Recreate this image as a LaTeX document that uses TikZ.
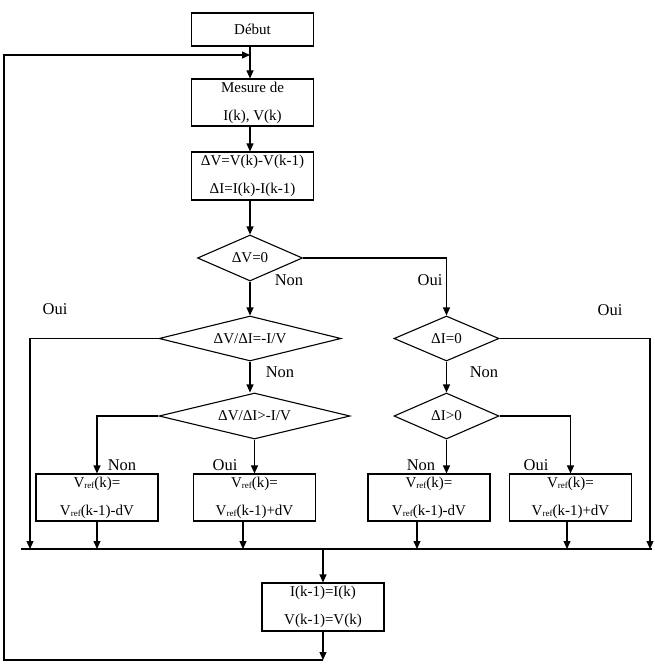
\documentclass[tikz,border=0pt]{standalone}
\usepackage{fontspec}
\setmainfont{Liberation Serif}
\usetikzlibrary{shapes.geometric,arrows.meta}
\newcommand\myVref{V\raisebox{-1.5pt}{\fontsize{9}{9}\selectfont ref}}
\begin{document}
\begin{tikzpicture}[x=1pt,y=-1pt,
  line/.style={line width=1.1pt},
  box/.style={draw, line width=1.1pt, rectangle, minimum width=122pt, minimum height=47pt, inner sep=0pt, align=center, font=\fontsize{15}{28}\selectfont},
  dec/.style={draw, diamond, line width=1.1pt, inner sep=0pt, aspect=1, font=\fontsize{15}{18}\selectfont},
  lab/.style={font=\fontsize{16.5}{18}\selectfont, inner sep=0pt},
  arr/.style={line, -{Triangle[length=8pt,width=7pt]}}]
\useasboundingbox (0,0) rectangle (654,666);
% boxes
\node[box, minimum height=33pt] (debut) at (252.5,29.5) {Début};
\node[box] (mesure) at (252.5,102.5) {Mesure de\\I(k), V(k)};
\node[box, minimum height=48pt] (dv) at (252.5,176) {ΔV=V(k)-V(k-1)\\ΔI=I(k)-I(k-1)};
% decisions
\node[dec, minimum width=105pt, minimum height=46pt] (d1) at (250,258) {\makebox[0pt]{ΔV=0}};
\node[dec, minimum width=182pt, minimum height=45pt] (d2) at (250,338.5) {\makebox[0pt]{ΔV/ΔI=-I/V}};
\node[dec, minimum width=191pt, minimum height=46pt] (d3) at (254.5,416) {\makebox[0pt]{ΔV/ΔI>-I/V}};
\node[dec, minimum width=105pt, minimum height=45pt] (d4) at (446.5,338.5) {\makebox[0pt]{ΔI=0}};
\node[dec, minimum width=105pt, minimum height=46pt] (d5) at (446.5,416) {\makebox[0pt]{ΔI>0}};
% updates
\node[box] (v1) at (97,497.5) {\myVref(k)=\\\myVref(k-1)-dV};
\node[box] (v2) at (254.5,497.5) {\myVref(k)=\\\myVref(k-1)+dV};
\node[box] (v3) at (429,497.5) {\myVref(k)=\\\myVref(k-1)-dV};
\node[box] (v4) at (570.5,497.5) {\myVref(k)=\\\myVref(k-1)+dV};
\node[box, minimum height=48pt] (fin) at (323,607) {I(k-1)=I(k)\\V(k-1)=V(k)};
% coordinates
\coordinate (busL) at (21,549);
\coordinate (busR) at (652,549);
\coordinate (b1) at (30,549);
\coordinate (b6) at (650,549);
\coordinate (ly) at (0,55);
\coordinate (lb) at (0,660);
\coordinate (ll) at (4,55);
% connectors
\draw[arr] (debut.south -| d1.north) -- (mesure.north -| d1.north);
\draw[arr] (mesure.south -| d1.north) -- (dv.north -| d1.north);
\draw[arr] (dv.south -| d1.north) -- (d1.north);
\draw[arr] (d1.east) -| (d4.north);
\draw[arr] (d1.south) -- (d2.north);
\draw[arr] (d2.west) -| (b1);
\draw[arr] (d2.south) -- (d2.south |- d3.north);
\draw[arr] (d3.west) -| (v1.north);
\draw[arr] (d3.south) -- (v2.north);
\draw[arr] (d4.east) -| (b6);
\draw[arr] (d4.south) -- (d5.north);
\draw[arr] (d5.east) -| (v4.north);
\draw[arr] (d5.south) -- (d5.south |- v3.north);
\draw[line] (busL) -- (busR);
\draw[arr] (v1.south) -- (v1.south |- busL);
\draw[arr] ([xshift=-11.5pt]v2.south) -- ([xshift=-11.5pt]v2.south |- busL);
\draw[arr] ([xshift=-12pt]v3.south) -- ([xshift=-12pt]v3.south |- busL);
\draw[arr] ([xshift=-3.5pt]v4.south) -- ([xshift=-3.5pt]v4.south |- busL);
\draw[arr] (fin.north |- busL) -- (fin.north);
\draw[arr] (fin.south) -- (fin.south |- lb);
\draw[arr] (fin.south |- lb) -| (ll) -- (d1.north |- ly);
% labels
\node[lab] (n1) at (289,280) {Non};
\node[lab] (o1) at (430,280) {Oui};
\node[lab] (o2) at (55,309) {Oui};
\node[lab] (o3) at (610,310) {Oui};
\node[lab] (n2) at (280,372) {Non};
\node[lab] (n3) at (484,372) {Non};
\node[lab] (n4) at (122,465) {Non};
\node[lab] (o4) at (225,465) {Oui};
\node[lab] (n5) at (421,465) {Non};
\node[lab] (o5) at (536,465) {Oui};
\end{tikzpicture}
\end{document}
